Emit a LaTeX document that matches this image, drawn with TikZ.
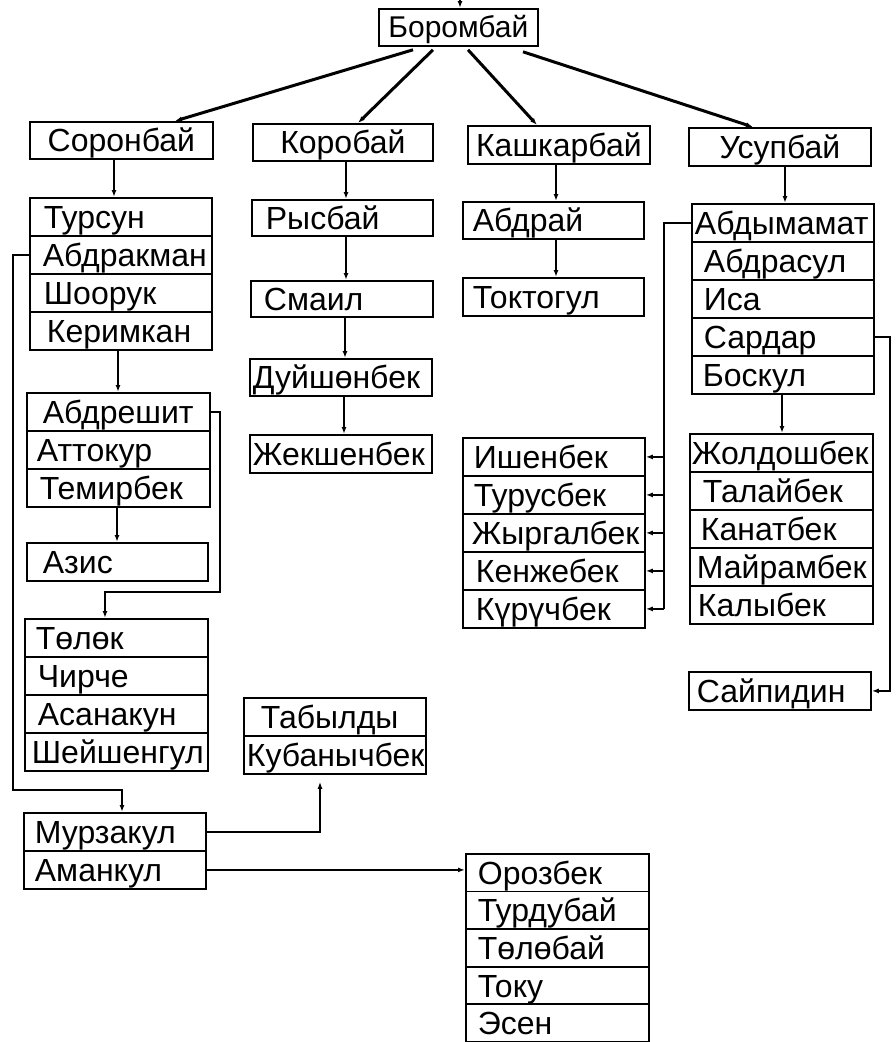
\documentclass[tikz,border=0pt]{standalone}
\usepackage{fontspec}
\setmainfont{Liberation Sans}
\usetikzlibrary{arrows.meta}
\tikzset{
 cell/.style 2 args={draw, line width=1.8pt, anchor=north west, inner xsep=0pt, inner ysep=0pt,
   text width=#1pt, minimum height=38pt, text height=23pt, text depth=0pt, align=left,
   font=\fontsize{32}{32}\selectfont, execute at begin node={\hspace*{#2pt}}},
 hdr/.style={draw, line width=1.8pt, anchor=north west, inner sep=0pt, minimum width=#1pt,
   minimum height=37pt, text height=23pt, text depth=0pt, font=\fontsize{32}{32}\selectfont},
 conn/.style={line width=2.5pt},
 arr/.style={conn, -{Latex[length=7pt,width=5pt]}},
 diag/.style={line width=3pt, -{Latex[length=7pt,width=5pt]}},
}
\begin{document}
\begin{tikzpicture}[x=1pt,y=-1pt]
\fill[white] (0,0) rectangle (895,1042);
\useasboundingbox (0,0) rectangle (895,1042);

% top
\node[hdr=159, font=\fontsize{30}{30}\selectfont, text height=21pt] (bor) at (378,8) {Боромбай};
\coordinate (top) at (460,0);
\draw[arr] (top) -- (top |- bor.north);

% second level
\node[hdr=183] (sor) at (29,121) {Соронбай};
\node[hdr=180] (kor) at (252,123) {Коробай};
\node[hdr=182, minimum height=38pt] (kash) at (467,125) {Кашкарбай};
\node[hdr=182, minimum height=38pt] (usu) at (688,127) {Усупбай};

\draw[diag] ([xshift=35pt,yshift=-3pt]bor.south west) -- ([xshift=146pt]sor.north west);
\draw[diag] ([xshift=55pt,yshift=-3pt]bor.south west) -- ([xshift=106pt]kor.north west);
\draw[diag] ([xshift=90pt,yshift=-3pt]bor.south west) -- ([xshift=70pt]kash.north west);
\draw[diag] ([xshift=145pt,yshift=-5pt]bor.south west) -- ([xshift=65pt]usu.north west);

% Соронбай column
\node[cell={182}{14}] (tur1) at (29,197) {Турсун};
\node[cell={182}{13}] (tur2) at (29,235) {Абдракман};
\node[cell={182}{14}] (tur3) at (29,273) {Шоорук};
\node[cell={182}{17}] (tur4) at (29,311) {Керимкан};

\node[cell={183}{16}] (abs1) at (26,392) {Абдрешит};
\node[cell={183}{10}] (abs2) at (26,430) {Аттокур};
\node[cell={183}{13}] (abs3) at (26,468) {Темирбек};

\node[cell={181}{16}] (azis) at (26,542) {Азис};

\node[cell={183}{11}] (tol1) at (24,618) {Төлөк};
\node[cell={183}{13}] (tol2) at (24,656) {Чирче};
\node[cell={183}{13}] (tol3) at (24,694) {Асанакун};
\node[cell={183}{7}] (tol4) at (24,732) {Шейшенгул};

\node[cell={182}{11}] (mur1) at (23,812) {Мурзакул};
\node[cell={182}{11}] (mur2) at (23,850) {Аманкул};

% Коробай column
\node[cell={181}{14}, minimum height=36pt] (rys) at (251,199) {Рысбай};
\node[cell={182}{13}, minimum height=36pt] (sma) at (250,280) {Смаил};
\node[cell={182}{3}, minimum height=37pt] (duy) at (249,358) {Дуйшөнбек};
\node[cell={182}{3}] (jek) at (249,434) {Жекшенбек};

\node[cell={182}{17}] (tab1) at (243,697) {Табылды};
\node[cell={182}{3}] (tab2) at (243,735) {Кубанычбек};

% Кашкарбай column
\node[cell={181}{10}, minimum height=37pt] (abdr) at (462,201) {Абдрай};
\node[cell={181}{10}] (tok) at (462,277) {Токтогул};

\node[cell={182}{11}] (ish1) at (462,437) {Ишенбек};
\node[cell={182}{11}] (ish2) at (462,475) {Турусбек};
\node[cell={182}{9}] (ish3) at (462,513) {Жыргалбек};
\node[cell={182}{13}] (ish4) at (462,551) {Кенжебек};
\node[cell={182}{13}] (ish5) at (462,589) {Күрүчбек};

\node[cell={183}{12}, minimum height=37.6pt] (oro1) at (465,853) {Орозбек};
\node[cell={183}{12}, minimum height=37.6pt] (oro2) at (465,890.6) {Турдубай};
\node[cell={183}{12}, minimum height=37.6pt] (oro3) at (465,928.2) {Төлөбай};
\node[cell={183}{12}, minimum height=37.6pt] (oro4) at (465,965.8) {Току};
\node[cell={183}{12}, minimum height=37.6pt] (oro5) at (465,1003.4) {Эсен};

% Усупбай column
\node[cell={182}{3}] (abm1) at (691,203) {Абдымамат};
\node[cell={182}{12}] (abm2) at (691,241) {Абдрасул};
\node[cell={182}{12}] (abm3) at (691,279) {Иса};
\node[cell={182}{12}] (abm4) at (691,317) {Сардар};
\node[cell={182}{11}] (abm5) at (691,355) {Боскул};

\node[cell={183}{2}] (jol1) at (689,433) {Жолдошбек};
\node[cell={183}{13}] (jol2) at (689,471) {Талайбек};
\node[cell={183}{11}] (jol3) at (689,509) {Канатбек};
\node[cell={183}{7}] (jol4) at (689,547) {Майрамбек};
\node[cell={183}{8}] (jol5) at (689,585) {Калыбек};

\node[cell={182}{8}] (say) at (688,671) {Сайпидин};

% vertical arrows
\draw[arr] ([xshift=85pt]sor.south west) -- ([xshift=85pt]sor.south west |- tur1.north);
\draw[arr] ([xshift=94pt]kor.south west) -- ([xshift=94pt]kor.south west |- rys.north);
\draw[arr] ([xshift=95pt]rys.south west) -- ([xshift=95pt]rys.south west |- sma.north);
\draw[arr] ([xshift=95pt]sma.south west) -- ([xshift=95pt]sma.south west |- duy.north);
\draw[arr] ([xshift=95pt]duy.south west) -- ([xshift=95pt]duy.south west |- jek.north);
\draw[arr] ([xshift=89pt]kash.south west) -- ([xshift=89pt]kash.south west |- abdr.north);
\draw[arr] ([xshift=94pt]abdr.south west) -- ([xshift=94pt]abdr.south west |- tok.north);
\draw[arr] ([xshift=97pt]usu.south west) -- ([xshift=97pt]usu.south west |- abm1.north);
\draw[arr] ([xshift=91pt]abm5.south west) -- ([xshift=91pt]abm5.south west |- jol1.north);
\draw[arr] ([xshift=89pt]tur4.south west) -- ([xshift=89pt]tur4.south west |- abs1.north);
\draw[arr] ([xshift=91pt]abs3.south west) -- ([xshift=91pt]abs3.south west |- azis.north);

% elbow connectors
\coordinate (k1) at (220,592);
\draw[arr] (abs1.east) -| (k1) -| ([xshift=81pt]tol1.north west);

\coordinate (k2) at (13,790);
\draw[arr] (tur2.west) -| (k2) -| ([xshift=99pt]mur1.north west);

\draw[arr] (mur1.east) -| ([xshift=77pt,yshift=-7pt]tab2.south west);

\draw[arr] (mur2.east) -- (mur2.east -| oro1.west);

\coordinate (k3) at (664,0);
\draw[conn] (abm1.west) -| (k3 |- ish5.east);
\foreach \r in {ish1,ish2,ish3,ish4,ish5}
  \draw[arr, line width=2pt] (k3 |- \r.east) -- (\r.east);

\coordinate (k4) at (890,0);
\draw[arr] (abm4.east) -| (k4 |- say.east) -- (say.east);
\end{tikzpicture}
\end{document}
